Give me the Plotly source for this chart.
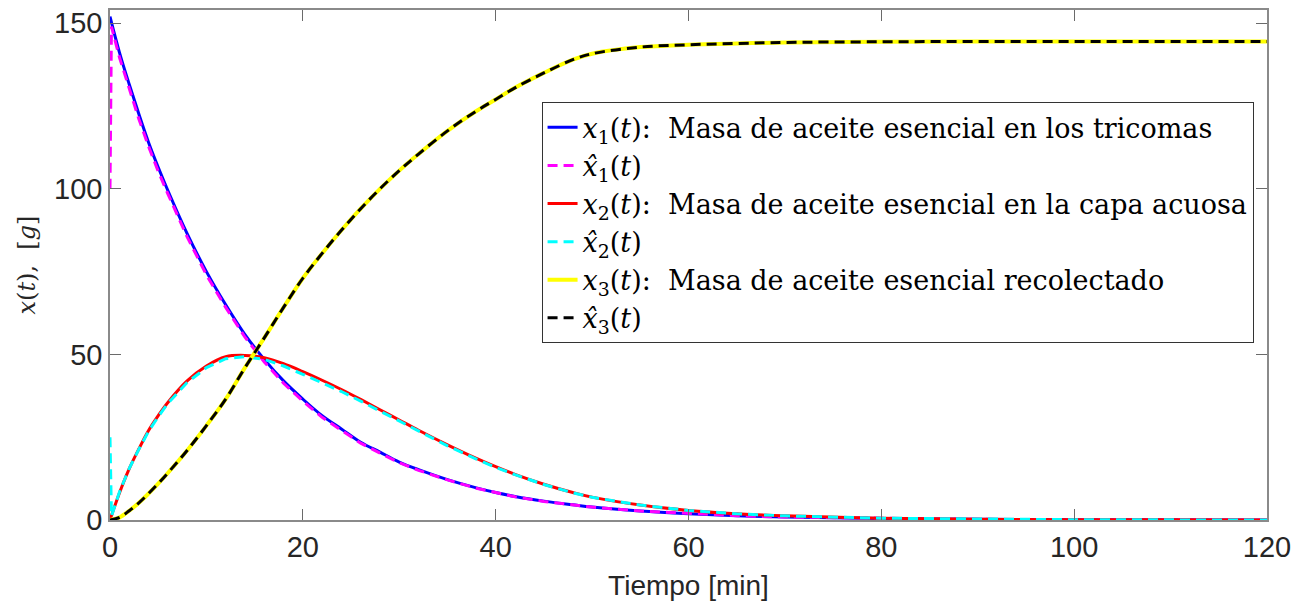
import plotly.graph_objects as go

# Time grid [min] for the measured states
t = [0, 1, 2, 3, 4, 5, 6, 8, 10, 12, 14, 16, 18, 20, 22, 24, 26, 28, 30, 32,
     35, 38, 40, 42, 45, 48, 50, 55, 60, 65, 70, 80, 90, 100, 110, 120]

# x1: oil mass in the trichomes [g]
x1 = [152, 141, 131.5, 122.5, 114, 106.5, 99.5, 86.5, 75, 65, 56, 48.5, 42,
      36.5, 31.5, 27.5, 23.5, 20.5, 17.5, 15.2, 12.2, 9.7, 8.3, 7.1, 5.7, 4.6,
      3.9, 2.7, 1.9, 1.3, 0.9, 0.45, 0.2, 0.1, 0.05, 0.02]

# x2: oil mass in the aqueous layer [g]
x2 = [0, 8.3, 15.5, 21.5, 27, 31.5, 35.5, 42, 46.5, 49.3, 49.7, 49, 47.2,
      44.8, 42.2, 39.4, 36.4, 33.3, 30.2, 27.1, 22.7, 18.6, 16.1, 13.8, 10.8,
      8.3, 6.9, 4.5, 2.9, 1.9, 1.25, 0.55, 0.22, 0.09, 0.04, 0.02]

# x3: collected oil mass [g]
x3 = [0, 0.8, 2.8, 5.2, 8, 11, 14.2, 21, 28.5, 36.5, 46, 55, 64.2, 73, 80.5,
      87.5, 94, 100, 105.5, 110.5, 117.5, 123.5, 127, 130.5, 135, 139, 140.8,
      142.8, 143.5, 143.9, 144.2, 144.4, 144.5, 144.5, 144.5, 144.5]

# Observer estimates (start from a wrong initial guess)
t_hat = [0, 0.15, 1, 2, 3, 4, 5, 6, 8, 10, 12, 14, 16, 18, 20, 22, 24, 26,
         28, 30, 32, 35, 38, 40, 42, 45, 48, 50, 55, 60, 65, 70, 80, 90, 100,
         110, 120]
x1_hat = [100, 149, 139.5, 130, 121, 112.8, 105.3, 98.5, 85.5, 74, 64.2, 55.2,
          47.7, 41.3, 35.9, 31, 27.1, 23.2, 20.2, 17.3, 15, 12.1, 9.6, 8.2, 7.0,
          5.6, 4.6, 3.9, 2.7, 1.9, 1.3, 0.9, 0.45, 0.2, 0.1, 0.05, 0.02]
x2_hat = [25, 1.2, 8.6, 15.6, 21.4, 26.8, 31.2, 35.2, 41.5, 46, 48.7, 49.3,
          48.5, 46.5, 44, 41.5, 38.8, 35.9, 32.9, 29.8, 26.8, 22.4, 18.4, 15.9,
          13.7, 10.7, 8.2, 6.85, 4.5, 2.9, 1.9, 1.25, 0.55, 0.22, 0.09, 0.04,
          0.02]
x3_hat = x3

x_ticks = [0, 20, 40, 60, 80, 100, 120]
y_ticks = [0, 50, 100, 150]

LEG1 = "<i>x</i><sub>1</sub>(<i>t</i>):  Masa de aceite esencial en los tricomas"
LEG1H = "<i>x̂</i><sub>1</sub>(<i>t</i>)"
LEG2 = "<i>x</i><sub>2</sub>(<i>t</i>):  Masa de aceite esencial en la capa acuosa"
LEG2H = "<i>x̂</i><sub>2</sub>(<i>t</i>)"
LEG3 = "<i>x</i><sub>3</sub>(<i>t</i>):  Masa de aceite esencial recolectado"
LEG3H = "<i>x̂</i><sub>3</sub>(<i>t</i>)"

DASH = "10px,6px"
LW = 3

fig = go.Figure()
fig.add_trace(go.Scatter(x=t, y=x1, mode="lines", name=LEG1,
                         line=dict(color="#0000ff", width=LW, shape="spline")))
fig.add_trace(go.Scatter(x=t_hat, y=x1_hat, mode="lines", name=LEG1H,
                         line=dict(color="#ff00ff", width=LW, dash=DASH)))
fig.add_trace(go.Scatter(x=t, y=x2, mode="lines", name=LEG2,
                         line=dict(color="#ff0000", width=LW, shape="spline")))
fig.add_trace(go.Scatter(x=t_hat, y=x2_hat, mode="lines", name=LEG2H,
                         line=dict(color="#00ffff", width=LW, dash=DASH)))
fig.add_trace(go.Scatter(x=t, y=x3, mode="lines", name=LEG3,
                         line=dict(color="#ffff00", width=LW + 1, shape="spline")))
fig.add_trace(go.Scatter(x=t, y=x3_hat, mode="lines", name=LEG3H,
                         line=dict(color="#000000", width=LW, dash=DASH,
                                   shape="spline")))

axis_common = dict(
    showline=True, linecolor="#8a8a8a", linewidth=1.5, mirror="ticks",
    ticks="inside", ticklen=11, tickwidth=1.3, tickcolor="#6a6a6a",
    showgrid=False, zeroline=False,
    tickfont=dict(family="Liberation Sans, Arial, sans-serif", size=29,
                  color="#262626"),
)

fig.update_xaxes(range=[0, 120], tickvals=x_ticks, **axis_common,
                 title=dict(text="Tiempo [min]", standoff=14,
                            font=dict(family="Liberation Sans, Arial, sans-serif",
                                      size=28, color="#262626")))
fig.update_yaxes(range=[0, 154], tickvals=y_ticks, **axis_common,
                 title=dict(text="<i>x</i>(<i>t</i>),  [<i>g</i>]", standoff=12,
                            font=dict(family="DejaVu Serif, serif", size=24,
                                      color="#262626")))

fig.update_layout(
    width=1309, height=610,
    margin=dict(l=110, r=42, t=7, b=90),
    paper_bgcolor="white", plot_bgcolor="white",
    showlegend=True,
    legend=dict(
        x=0.373, y=0.819, xanchor="left", yanchor="top",
        bgcolor="white", bordercolor="#333333", borderwidth=1,
        font=dict(family="DejaVu Serif, serif", size=27, color="#000000"),
        itemwidth=30, tracegroupgap=0,
    ),
)

fig.write_html("out.html")
